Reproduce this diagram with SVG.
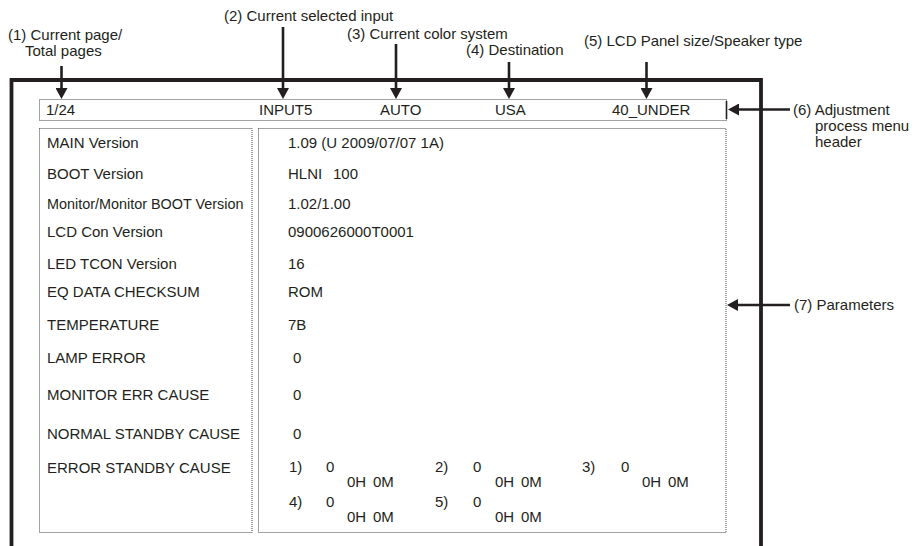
<svg xmlns="http://www.w3.org/2000/svg" width="916" height="546" viewBox="0 0 916 546">
<style>
text{font-family:"Liberation Sans",Arial,sans-serif;fill:#231f20}
.s{font-size:15px}
.a{font-size:15px}
.dot{fill:none;stroke:#444;stroke-width:1;stroke-dasharray:1 1}
.arr{stroke:#231f20;stroke-width:2.6;fill:none}
</style>
<defs>
<marker id="ah" markerWidth="12" markerHeight="12" refX="8" refY="6" orient="auto" markerUnits="userSpaceOnUse">
<path d="M0,0 L11,6 L0,12 z" fill="#231f20"/>
</marker>
</defs>
<rect width="916" height="546" fill="#fff"/>

<g id="frame">
<path d="M11.5,550 V80 H761 V550" fill="none" stroke="#231f20" stroke-width="3.8"/>
</g>

<g id="header">
<rect class="dot" x="39.5" y="99.5" width="687" height="21"/>
<line x1="726.5" y1="101" x2="726.5" y2="119" stroke="#231f20" stroke-width="1.6"/>
<text class="s" x="46" y="115">1/24</text>
<text class="s" x="259" y="115">INPUT5</text>
<text class="s" x="380" y="115">AUTO</text>
<text class="s" x="495" y="115">USA</text>
<text class="s" x="612" y="115">40_UNDER</text>
</g>

<g id="labels">
<rect class="dot" x="39.5" y="128.5" width="212.5" height="404"/>
<text class="s" x="47" y="148">MAIN Version</text>
<text class="s" x="47" y="179">BOOT Version</text>
<text x="47" y="209" style="font-size:14.4px">Monitor/Monitor BOOT Version</text>
<text class="s" x="47" y="237">LCD Con Version</text>
<text class="s" x="47" y="269">LED TCON Version</text>
<text class="s" x="47" y="297">EQ DATA CHECKSUM</text>
<text class="s" x="47" y="330">TEMPERATURE</text>
<text class="s" x="47" y="363">LAMP ERROR</text>
<text class="s" x="47" y="400">MONITOR ERR CAUSE</text>
<text class="s" x="47" y="439">NORMAL STANDBY CAUSE</text>
<text class="s" x="47" y="473">ERROR STANDBY CAUSE</text>
</g>

<g id="parameters">
<rect class="dot" x="258.5" y="128.5" width="467.5" height="404"/>
<text class="s" x="288" y="148">1.09 (U 2009/07/07 1A)</text>
<text class="s" x="288" y="179">HLNI</text>
<text class="s" x="333" y="179">100</text>
<text class="s" x="288" y="209">1.02/1.00</text>
<text class="s" x="288" y="237">0900626000T0001</text>
<text class="s" x="288" y="269">16</text>
<text class="s" x="288" y="297">ROM</text>
<text class="s" x="288" y="330">7B</text>
<text class="s" x="293" y="363">0</text>
<text class="s" x="293" y="400">0</text>
<text class="s" x="293" y="439">0</text>
<text class="s" x="289" y="472">1)</text>
<text class="s" x="326" y="472">0</text>
<text class="s" x="347" y="487">0H</text><text class="s" x="373" y="487">0M</text>
<text class="s" x="435" y="472">2)</text>
<text class="s" x="473" y="472">0</text>
<text class="s" x="495" y="487">0H</text><text class="s" x="521" y="487">0M</text>
<text class="s" x="582" y="472">3)</text>
<text class="s" x="621" y="472">0</text>
<text class="s" x="642" y="487">0H</text><text class="s" x="668" y="487">0M</text>
<text class="s" x="289" y="507">4)</text>
<text class="s" x="326" y="507">0</text>
<text class="s" x="347" y="522">0H</text><text class="s" x="373" y="522">0M</text>
<text class="s" x="435" y="507">5)</text>
<text class="s" x="473" y="507">0</text>
<text class="s" x="495" y="522">0H</text><text class="s" x="521" y="522">0M</text>
</g>

<g id="callout-1"><text class="a" x="8" y="40">(1) Current page/</text><text class="a" x="25" y="56">Total pages</text></g>
<g id="callout-2"><text class="a" x="224" y="21">(2) Current selected input</text></g>
<g id="callout-3"><text class="a" x="347" y="39">(3) Current color system</text></g>
<g id="callout-4"><text class="a" x="466" y="55">(4) Destination</text></g>
<g id="callout-5"><text class="a" x="584" y="46">(5) LCD Panel size/Speaker type</text></g>
<g id="callout-6"><text class="a" x="793" y="114.5">(6) Adjustment</text><text class="a" x="815" y="130.5">process menu</text><text class="a" x="815" y="146.5">header</text></g>
<g id="callout-7"><text class="a" x="794" y="310">(7) Parameters</text></g>

<g id="connectors">
<line class="arr" x1="61.5" y1="66" x2="61.5" y2="96" marker-end="url(#ah)"/>
<line class="arr" x1="283" y1="27" x2="283" y2="96" marker-end="url(#ah)"/>
<line class="arr" x1="396" y1="44" x2="396" y2="96" marker-end="url(#ah)"/>
<line class="arr" x1="509" y1="62" x2="509" y2="96" marker-end="url(#ah)"/>
<line class="arr" x1="646.5" y1="62" x2="646.5" y2="96" marker-end="url(#ah)"/>
<line class="arr" x1="790" y1="109.5" x2="731" y2="109.5" marker-end="url(#ah)"/>
<line class="arr" x1="790" y1="305" x2="730" y2="305" marker-end="url(#ah)"/>
</g>
</svg>
